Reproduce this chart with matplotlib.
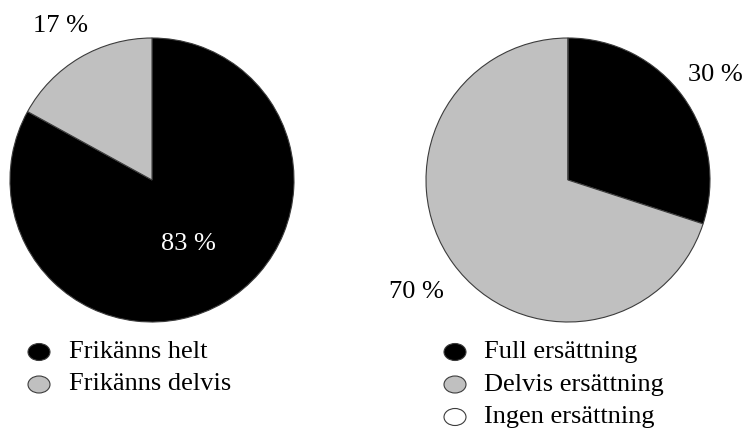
import numpy as np
import matplotlib
matplotlib.use("Agg")
import matplotlib.pyplot as plt
from matplotlib.patches import Ellipse

# Outcome of the acquittal
acquit_labels = ["Frikänns helt", "Frikänns delvis"]
acquit_values = [83, 17]

# Compensation granted
comp_labels = ["Full ersättning", "Delvis ersättning", "Ingen ersättning"]
comp_values = [30, 70, 0]

colors = ["#000000", "#c0c0c0", "#ffffff"]
edge = "#3c3c3c"

FONT = ["Liberation Serif", "DejaVu Serif"]
plt.rcParams["font.family"] = FONT
FS = 19

W, H = 744, 434
fig = plt.figure(figsize=(W / 100, H / 100), dpi=100)
ax = fig.add_axes([0, 0, 1, 1])

R = 142
CY = H - 180


def draw_pie(cx, values, label_spec):
    ax.pie(values, colors=colors[:len(values)], startangle=90, counterclock=False,
           center=(cx, CY), radius=R, frame=True,
           wedgeprops=dict(edgecolor=edge, linewidth=0.8))
    total = float(sum(values))
    start = 90.0
    for i, v in enumerate(values):
        span = 360.0 * v / total
        mid = np.deg2rad(start - span / 2)
        start -= span
        if i not in label_spec:
            continue
        dist, col = label_spec[i]
        ax.text(cx + dist * R * np.cos(mid), CY + dist * R * np.sin(mid) - 1.5,
                f"{v} %", color=col, fontsize=FS, ha="center", va="center",
                family=FONT)


draw_pie(152, acquit_values, {0: (0.51, "white"), 1: (1.27, "black")})
draw_pie(568, comp_values, {0: (1.28, "black"), 1: (1.32, "black")})


def draw_legend(mx, tx, y0, labels):
    for i, lab in enumerate(labels):
        y = H - (y0 + 32.5 * i)
        ax.add_patch(Ellipse((mx, y), 22, 17, facecolor=colors[i],
                             edgecolor=edge, linewidth=0.8))
        ax.text(tx, y, lab, fontsize=FS, ha="left", va="center", family=FONT)


draw_legend(39, 69, 352, acquit_labels)
draw_legend(455, 484, 352, comp_labels)

ax.set_xlim(0, W)
ax.set_ylim(0, H)
ax.set_aspect("equal")
ax.axis("off")

fig.savefig("out.png", dpi=100)
